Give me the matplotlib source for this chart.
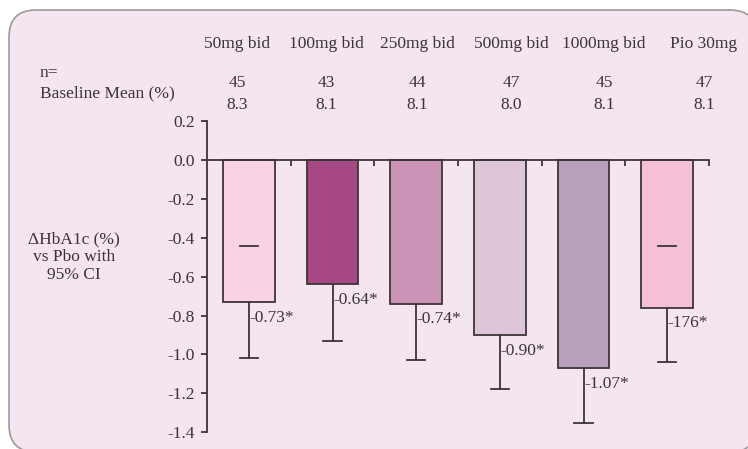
import matplotlib.pyplot as plt
from matplotlib.patches import FancyBboxPatch

plt.rcParams['font.family'] = ['Liberation Serif', 'DejaVu Serif']

doses = ['50mg bid', '100mg bid', '250mg bid', '500mg bid', '1000mg bid', 'Pio 30mg']
n_pts = ['45', '43', '44', '47', '45', '47']
baseline = ['8.3', '8.1', '8.1', '8.0', '8.1', '8.1']
delta = [-0.73, -0.64, -0.74, -0.90, -1.07, -0.76]
ci_low = [-1.02, -0.93, -1.03, -1.18, -1.35, -1.04]
ci_high = [-0.44, None, None, None, None, -0.44]
value_labels = ['-0.73*', '-0.64*', '-0.74*', '-0.90*', '-1.07*', '-176*']
colors = ['#f9d3e3', '#a54883', '#cb94b7', '#dfc5d8', '#b89fbc', '#f6bfd8']

# header columns sit a bit wider than the bars
head_x = [237, 326, 417, 511, 604, 704]

W, H = 748, 449
fig = plt.figure(figsize=(W / 100, H / 100), dpi=100)
fig.patch.set_facecolor('white')

# rounded panel behind everything, laid out in pixel units
bg = fig.add_axes([0, 0, 1, 1], zorder=-1)
bg.set_xlim(0, W)
bg.set_ylim(0, H)
bg.axis('off')
bg.add_patch(FancyBboxPatch((9, -3), 748, H - 10 + 3,
                            boxstyle='round,pad=0,rounding_size=27',
                            facecolor='#f4e5f0', edgecolor='#9a9a9a', linewidth=1.2))

ax = fig.add_axes([207 / W, 1 - 432.3 / H, (709 - 207) / W, (432.3 - 121) / H])
ax.set_facecolor('none')

dark = '#3a3538'
xs = [i + 0.5 for i in range(len(doses))]
ax.bar(xs, delta, width=0.62, color=colors, edgecolor=dark, linewidth=1.3, zorder=2)
for x, d, lo, hi, lab in zip(xs, delta, ci_low, ci_high, value_labels):
    ax.plot([x, x], [d, lo], color=dark, lw=1.3, zorder=3)
    ax.plot([x - 0.11, x + 0.11], [lo, lo], color=dark, lw=1.3, zorder=3)
    if hi is not None:
        ax.plot([x - 0.11, x + 0.11], [hi, hi], color=dark, lw=1.3, zorder=3)
    ax.text(x + 0.005, d - 0.08, lab, ha='left', va='center', fontsize=12.5, color=dark, zorder=4)

ax.set_xlim(0, 6)
ax.set_ylim(-1.4, 0.2)
ax.set_yticks([0.2, 0.0, -0.2, -0.4, -0.6, -0.8, -1.0, -1.2, -1.4])
ax.set_yticklabels(['0.2', '0.0', '-0.2', '-0.4', '-0.6', '-0.8', '-1.0', '-1.2', '-1.4'])
ax.set_xticks(range(1, 7))
ax.set_xticklabels([])
ax.spines['bottom'].set_position(('data', 0))
ax.spines['top'].set_visible(False)
ax.spines['right'].set_visible(False)
for s in ('left', 'bottom'):
    ax.spines[s].set_color(dark)
    ax.spines[s].set_linewidth(1.3)
ax.tick_params(axis='y', direction='out', length=4, width=1.3, color=dark,
               labelsize=12.5, labelcolor=dark, pad=5)
ax.tick_params(axis='x', direction='out', length=4, width=1.3, color=dark)

for hx, d, n, b in zip(head_x, doses, n_pts, baseline):
    fig.text(hx / W, 1 - 44 / H, d, ha='center', va='center', fontsize=12.5, color=dark)
    fig.text(hx / W, 1 - 83 / H, n, ha='center', va='center', fontsize=12.5, color=dark)
    fig.text(hx / W, 1 - 105 / H, b, ha='center', va='center', fontsize=12.5, color=dark)

fig.text(40 / W, 1 - 73 / H, 'n=', ha='left', va='center', fontsize=12.5, color=dark)
fig.text(40 / W, 1 - 93 / H, 'Baseline Mean (%)', ha='left', va='center', fontsize=12.5, color=dark)
fig.text(74 / W, 1 - 257 / H, '\u0394HbA1c (%)\nvs Pbo with\n95% CI', ha='center', va='center',
         fontsize=12.5, color=dark, linespacing=1.15)

fig.savefig('out.png', dpi=100)
